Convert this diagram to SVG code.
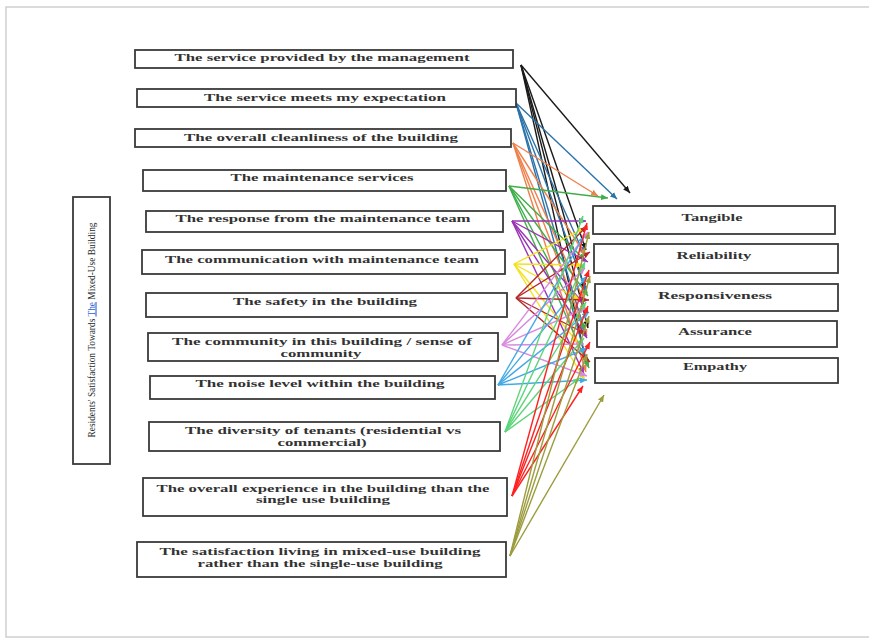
<svg xmlns="http://www.w3.org/2000/svg" width="869" height="639" viewBox="0 0 869 639">
<style>
.frame{fill:#fff;stroke:#cfcfcf;stroke-width:1.5}
.box{fill:#fff;stroke:#3a3a3a;stroke-width:1.8}
.t{font-family:"Liberation Serif","Times New Roman",serif;font-weight:bold;font-size:11px;fill:#333;text-anchor:middle}
.v{font-family:"Liberation Serif","Times New Roman",serif;font-size:10.5px;fill:#2a2a2a;text-anchor:middle}
.ln{fill:none;stroke-width:1.4}
.c1{stroke:#1a1a1a}.c2{stroke:#2b73a8}.c3{stroke:#f0804a}.c4{stroke:#3fae49}
.c5{stroke:#9a32b5}.c6{stroke:#f2e21c}.c7{stroke:#b5282b}.c8{stroke:#d98ae0}
.c9{stroke:#43a9e6}.c10{stroke:#5bd47a}.c11{stroke:#ff2020}.c12{stroke:#9c9c3e}
</style>
<defs>
<marker id="m1" markerUnits="userSpaceOnUse" markerWidth="7" markerHeight="6" refX="7" refY="3" orient="auto"><path d="M0,0 L7,3 L0,6 z" fill="#1a1a1a"/></marker>
<marker id="m2" markerUnits="userSpaceOnUse" markerWidth="7" markerHeight="6" refX="7" refY="3" orient="auto"><path d="M0,0 L7,3 L0,6 z" fill="#2b73a8"/></marker>
<marker id="m3" markerUnits="userSpaceOnUse" markerWidth="7" markerHeight="6" refX="7" refY="3" orient="auto"><path d="M0,0 L7,3 L0,6 z" fill="#f0804a"/></marker>
<marker id="m4" markerUnits="userSpaceOnUse" markerWidth="7" markerHeight="6" refX="7" refY="3" orient="auto"><path d="M0,0 L7,3 L0,6 z" fill="#3fae49"/></marker>
<marker id="m5" markerUnits="userSpaceOnUse" markerWidth="7" markerHeight="6" refX="7" refY="3" orient="auto"><path d="M0,0 L7,3 L0,6 z" fill="#9a32b5"/></marker>
<marker id="m6" markerUnits="userSpaceOnUse" markerWidth="7" markerHeight="6" refX="7" refY="3" orient="auto"><path d="M0,0 L7,3 L0,6 z" fill="#f2e21c"/></marker>
<marker id="m7" markerUnits="userSpaceOnUse" markerWidth="7" markerHeight="6" refX="7" refY="3" orient="auto"><path d="M0,0 L7,3 L0,6 z" fill="#b5282b"/></marker>
<marker id="m8" markerUnits="userSpaceOnUse" markerWidth="7" markerHeight="6" refX="7" refY="3" orient="auto"><path d="M0,0 L7,3 L0,6 z" fill="#d98ae0"/></marker>
<marker id="m9" markerUnits="userSpaceOnUse" markerWidth="7" markerHeight="6" refX="7" refY="3" orient="auto"><path d="M0,0 L7,3 L0,6 z" fill="#43a9e6"/></marker>
<marker id="m10" markerUnits="userSpaceOnUse" markerWidth="7" markerHeight="6" refX="7" refY="3" orient="auto"><path d="M0,0 L7,3 L0,6 z" fill="#5bd47a"/></marker>
<marker id="m11" markerUnits="userSpaceOnUse" markerWidth="7" markerHeight="6" refX="7" refY="3" orient="auto"><path d="M0,0 L7,3 L0,6 z" fill="#ff2020"/></marker>
<marker id="m12" markerUnits="userSpaceOnUse" markerWidth="7" markerHeight="6" refX="7" refY="3" orient="auto"><path d="M0,0 L7,3 L0,6 z" fill="#9c9c3e"/></marker>
</defs>
<rect width="869" height="639" fill="#fff"/>
<rect class="frame" x="6" y="7" width="900" height="630"/>

<g id="vlabel">
<rect class="box" x="73" y="197" width="37" height="267"/>
<text class="v" transform="translate(91,330) rotate(-90)" x="0" y="3.5" textLength="215" lengthAdjust="spacingAndGlyphs">Residents' Satisfaction Towards <tspan fill="#2e5fd0" text-decoration="underline">The</tspan> Mixed-Use Building</text>
</g>

<g id="connectors">
<g class="ln c1" marker-end="url(#m1)">
<line x1="521" y1="65" x2="630" y2="193"/><line x1="521" y1="65" x2="586" y2="250"/><line x1="521" y1="65" x2="585" y2="290"/><line x1="521" y1="65" x2="588" y2="328"/><line x1="521" y1="65" x2="586" y2="362"/>
</g>
<g class="ln c2" marker-end="url(#m2)">
<line x1="516" y1="103" x2="617" y2="199"/><line x1="516" y1="103" x2="584" y2="254"/><line x1="516" y1="103" x2="587" y2="293"/><line x1="516" y1="103" x2="585" y2="332"/><line x1="516" y1="103" x2="588" y2="366"/>
</g>
<g class="ln c3" marker-end="url(#m3)">
<line x1="513" y1="143" x2="598" y2="196"/><line x1="513" y1="143" x2="586" y2="256"/><line x1="513" y1="143" x2="584" y2="300"/><line x1="513" y1="143" x2="587" y2="336"/><line x1="513" y1="143" x2="586" y2="372"/>
</g>
<g class="ln c4" marker-end="url(#m4)">
<line x1="509" y1="186" x2="608" y2="198"/><line x1="509" y1="186" x2="585" y2="260"/><line x1="509" y1="186" x2="588" y2="296"/><line x1="509" y1="186" x2="585" y2="330"/><line x1="509" y1="186" x2="589" y2="368"/>
</g>
<g class="ln c5" marker-end="url(#m5)">
<line x1="512" y1="221" x2="586" y2="221"/><line x1="512" y1="221" x2="588" y2="262"/><line x1="512" y1="221" x2="584" y2="304"/><line x1="512" y1="221" x2="587" y2="338"/><line x1="512" y1="221" x2="584" y2="374"/>
</g>
<g class="ln c6" marker-end="url(#m6)">
<line x1="514" y1="264" x2="585" y2="228"/><line x1="514" y1="264" x2="583" y2="265"/><line x1="514" y1="264" x2="580" y2="300"/><line x1="514" y1="264" x2="578" y2="343"/><line x1="514" y1="264" x2="585" y2="380"/>
</g>
<g class="ln c7" marker-end="url(#m7)">
<line x1="516" y1="298" x2="587" y2="226"/><line x1="516" y1="298" x2="590" y2="252"/><line x1="516" y1="298" x2="589" y2="300"/><line x1="516" y1="298" x2="586" y2="334"/><line x1="516" y1="298" x2="590" y2="362"/>
</g>
<g class="ln c8" marker-end="url(#m8)">
<line x1="502" y1="345" x2="588" y2="232"/><line x1="502" y1="345" x2="585" y2="268"/><line x1="502" y1="345" x2="586" y2="308"/><line x1="502" y1="345" x2="584" y2="344"/><line x1="502" y1="345" x2="587" y2="376"/>
</g>
<g class="ln c9" marker-end="url(#m9)">
<line x1="498" y1="385" x2="584" y2="236"/><line x1="498" y1="385" x2="587" y2="276"/><line x1="498" y1="385" x2="589" y2="312"/><line x1="498" y1="385" x2="588" y2="348"/><line x1="498" y1="385" x2="587" y2="380"/>
</g>
<g class="ln c10" marker-end="url(#m10)">
<line x1="505" y1="432" x2="583" y2="216"/><line x1="505" y1="432" x2="585" y2="262"/><line x1="505" y1="432" x2="586" y2="302"/><line x1="505" y1="432" x2="584" y2="338"/><line x1="505" y1="432" x2="580" y2="378"/>
</g>
<g class="ln c11" marker-end="url(#m11)">
<line x1="512" y1="496" x2="587" y2="223"/><line x1="512" y1="496" x2="589" y2="270"/><line x1="512" y1="496" x2="588" y2="306"/><line x1="512" y1="496" x2="590" y2="342"/><line x1="512" y1="496" x2="583" y2="386"/>
</g>
<g class="ln c12" marker-end="url(#m12)">
<line x1="510" y1="556" x2="589" y2="232"/><line x1="510" y1="556" x2="590" y2="276"/><line x1="510" y1="556" x2="589" y2="316"/><line x1="510" y1="556" x2="587" y2="354"/><line x1="510" y1="556" x2="604" y2="395"/>
</g>
</g>

<g id="n1"><rect class="box" x="135" y="50" width="378" height="18"/><text class="t" x="322" y="61" textLength="295" lengthAdjust="spacingAndGlyphs">The service provided by the management</text></g>
<g id="n2"><rect class="box" x="137" y="89" width="379" height="18"/><text class="t" x="325" y="101" textLength="242" lengthAdjust="spacingAndGlyphs">The service meets my expectation</text></g>
<g id="n3"><rect class="box" x="135" y="129" width="376" height="18"/><text class="t" x="321" y="141" textLength="274" lengthAdjust="spacingAndGlyphs">The overall cleanliness of the building</text></g>
<g id="n4"><rect class="box" x="143" y="170" width="363" height="21"/><text class="t" x="322" y="181" textLength="183" lengthAdjust="spacingAndGlyphs">The maintenance services</text></g>
<g id="n5"><rect class="box" x="146" y="211" width="357" height="21"/><text class="t" x="323" y="222" textLength="295" lengthAdjust="spacingAndGlyphs">The response from the maintenance team</text></g>
<g id="n6"><rect class="box" x="142" y="250" width="363" height="24"/><text class="t" x="322" y="263" textLength="314" lengthAdjust="spacingAndGlyphs">The communication with maintenance team</text></g>
<g id="n7"><rect class="box" x="146" y="293" width="361" height="24"/><text class="t" x="325" y="305" textLength="184" lengthAdjust="spacingAndGlyphs">The safety in the building</text></g>
<g id="n8"><rect class="box" x="148" y="333" width="350" height="28"/><text class="t" x="322" y="345" textLength="300" lengthAdjust="spacingAndGlyphs">The community in this building / sense of</text><text class="t" x="321" y="357" textLength="81" lengthAdjust="spacingAndGlyphs">community</text></g>
<g id="n9"><rect class="box" x="150" y="376" width="345" height="23"/><text class="t" x="320" y="387" textLength="249" lengthAdjust="spacingAndGlyphs">The noise level within the building</text></g>
<g id="n10"><rect class="box" x="149" y="422" width="351" height="29"/><text class="t" x="323" y="434" textLength="276" lengthAdjust="spacingAndGlyphs">The diversity of tenants (residential vs</text><text class="t" x="322" y="446" textLength="89" lengthAdjust="spacingAndGlyphs">commercial)</text></g>
<g id="n11"><rect class="box" x="143" y="478" width="364" height="38"/><text class="t" x="323" y="492" textLength="333" lengthAdjust="spacingAndGlyphs">The overall experience in the building than the</text><text class="t" x="323" y="503" textLength="134" lengthAdjust="spacingAndGlyphs">single use building</text></g>
<g id="n12"><rect class="box" x="137" y="542" width="369" height="35"/><text class="t" x="320" y="555" textLength="321" lengthAdjust="spacingAndGlyphs">The satisfaction living in mixed-use building</text><text class="t" x="320" y="567" textLength="245" lengthAdjust="spacingAndGlyphs">rather than the single-use building</text></g>

<g id="r1"><rect class="box" x="593" y="206" width="242" height="28"/><text class="t" x="712" y="221" textLength="61" lengthAdjust="spacingAndGlyphs">Tangible</text></g>
<g id="r2"><rect class="box" x="594" y="244" width="244" height="29"/><text class="t" x="714" y="259" textLength="75" lengthAdjust="spacingAndGlyphs">Reliability</text></g>
<g id="r3"><rect class="box" x="595" y="284" width="243" height="27"/><text class="t" x="715" y="299" textLength="114" lengthAdjust="spacingAndGlyphs">Responsiveness</text></g>
<g id="r4"><rect class="box" x="597" y="321" width="240" height="26"/><text class="t" x="715" y="335" textLength="74" lengthAdjust="spacingAndGlyphs">Assurance</text></g>
<g id="r5"><rect class="box" x="595" y="358" width="243" height="25"/><text class="t" x="715" y="370" textLength="64" lengthAdjust="spacingAndGlyphs">Empathy</text></g>
</svg>
